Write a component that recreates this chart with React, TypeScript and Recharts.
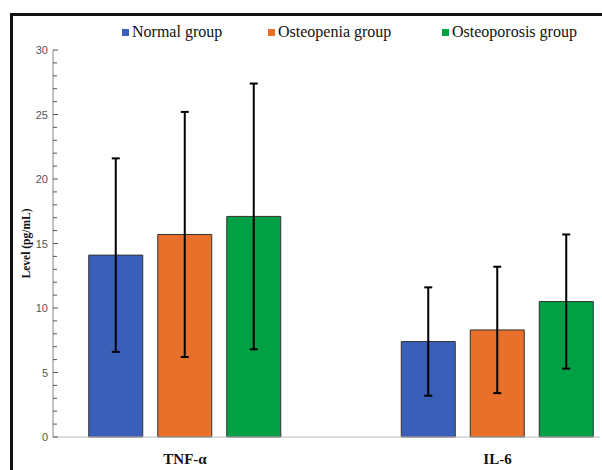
import { BarChart, Bar, XAxis, YAxis, ErrorBar } from 'recharts';

const categories = ['TNF-α', 'IL-6'];
const groups = ['Normal group', 'Osteopenia group', 'Osteoporosis group'];
const normal = [14.1, 7.4];
const normalErr = [7.5, 4.2];
const osteopenia = [15.7, 8.3];
const osteopeniaErr = [9.5, 4.9];
const osteoporosis = [17.1, 10.5];
const osteoporosisErr = [10.3, 5.2];
const yTicks = Array.from({ length: 31 }, (_, i) => i);

const colors = ['#3a5fb9', '#e8702a', '#00a044'];

const data = categories.map((name, i) => ({
  x: i,
  name,
  normal: normal[i],
  normalErr: normalErr[i],
  osteopenia: osteopenia[i],
  osteopeniaErr: osteopeniaErr[i],
  osteoporosis: osteoporosis[i],
  osteoporosisErr: osteoporosisErr[i],
}));

const serif = '"Liberation Serif", "Times New Roman", serif';

function YTick({ x, y, payload }: any) {
  const major = payload.value % 5 === 0;
  return (
    <g>
      <line x1={x} x2={x + (major ? 5 : 4)} y1={y} y2={y} stroke="#555" strokeWidth={1} />
      {major && (
        <text
          x={x - 5}
          y={y}
          textAnchor="end"
          dominantBaseline="central"
          fontSize={11}
          fontFamily="Arial, 'Liberation Sans', sans-serif"
          fill="#555"
        >
          {payload.value}
        </text>
      )}
    </g>
  );
}

const legendX = [122, 268, 442];

export default function App() {
  return (
    <div
      style={{
        position: 'fixed',
        left: 0,
        top: 0,
        width: 602,
        height: 470,
        overflow: 'hidden',
        background: '#fff',
      }}
    >
      <div
        style={{
          position: 'absolute',
          left: 10,
          top: 13,
          width: 700,
          height: 600,
          border: '3px solid #111',
        }}
      />
      {groups.map((g, i) => (
        <div
          key={g}
          style={{
            position: 'absolute',
            left: legendX[i],
            top: 23,
            display: 'flex',
            alignItems: 'center',
            fontFamily: serif,
            fontSize: 16,
            color: '#111',
            whiteSpace: 'nowrap',
          }}
        >
          <span
            style={{
              display: 'inline-block',
              width: 7,
              height: 7,
              background: colors[i],
              marginRight: 3,
            }}
          />
          {g}
        </div>
      ))}
      <div style={{ position: 'absolute', left: 0, top: 0 }}>
        <BarChart
          width={602}
          height={470}
          data={data}
          margin={{ top: 50, right: 2, bottom: 3, left: 13 }}
          barSize={54}
          barGap={15}
        >
          <XAxis
            type="number"
            dataKey="x"
            domain={[-0.4224, 1.328]}
            allowDataOverflow
            ticks={[0, 1]}
            tickFormatter={(v: number) => categories[v] ?? ''}
            tickLine={false}
            axisLine={{ stroke: '#bbb' }}
            tick={{ fontFamily: serif, fontSize: 15, fontWeight: 'bold', fill: '#111' }}
            tickMargin={10}
          />
          <YAxis
            width={40}
            domain={[0, 30]}
            ticks={yTicks}
            interval={0}
            tickLine={false}
            tickSize={0}
            tickMargin={0}
            axisLine={{ stroke: '#888' }}
            tick={<YTick />}
            label={{
              value: 'Level (pg/mL)',
              angle: -90,
              position: 'insideLeft',
              offset: 13,
              style: {
                textAnchor: 'middle',
                fontFamily: serif,
                fontSize: 11.5,
                fontWeight: 'bold',
                fill: '#111',
              },
            }}
          />
          <Bar dataKey="normal" fill={colors[0]} stroke="#333" strokeWidth={1} isAnimationActive={false}>
            <ErrorBar dataKey="normalErr" width={4} stroke="#000" strokeWidth={2} />
          </Bar>
          <Bar dataKey="osteopenia" fill={colors[1]} stroke="#333" strokeWidth={1} isAnimationActive={false}>
            <ErrorBar dataKey="osteopeniaErr" width={4} stroke="#000" strokeWidth={2} />
          </Bar>
          <Bar dataKey="osteoporosis" fill={colors[2]} stroke="#333" strokeWidth={1} isAnimationActive={false}>
            <ErrorBar dataKey="osteoporosisErr" width={4} stroke="#000" strokeWidth={2} />
          </Bar>
        </BarChart>
      </div>
    </div>
  );
}
